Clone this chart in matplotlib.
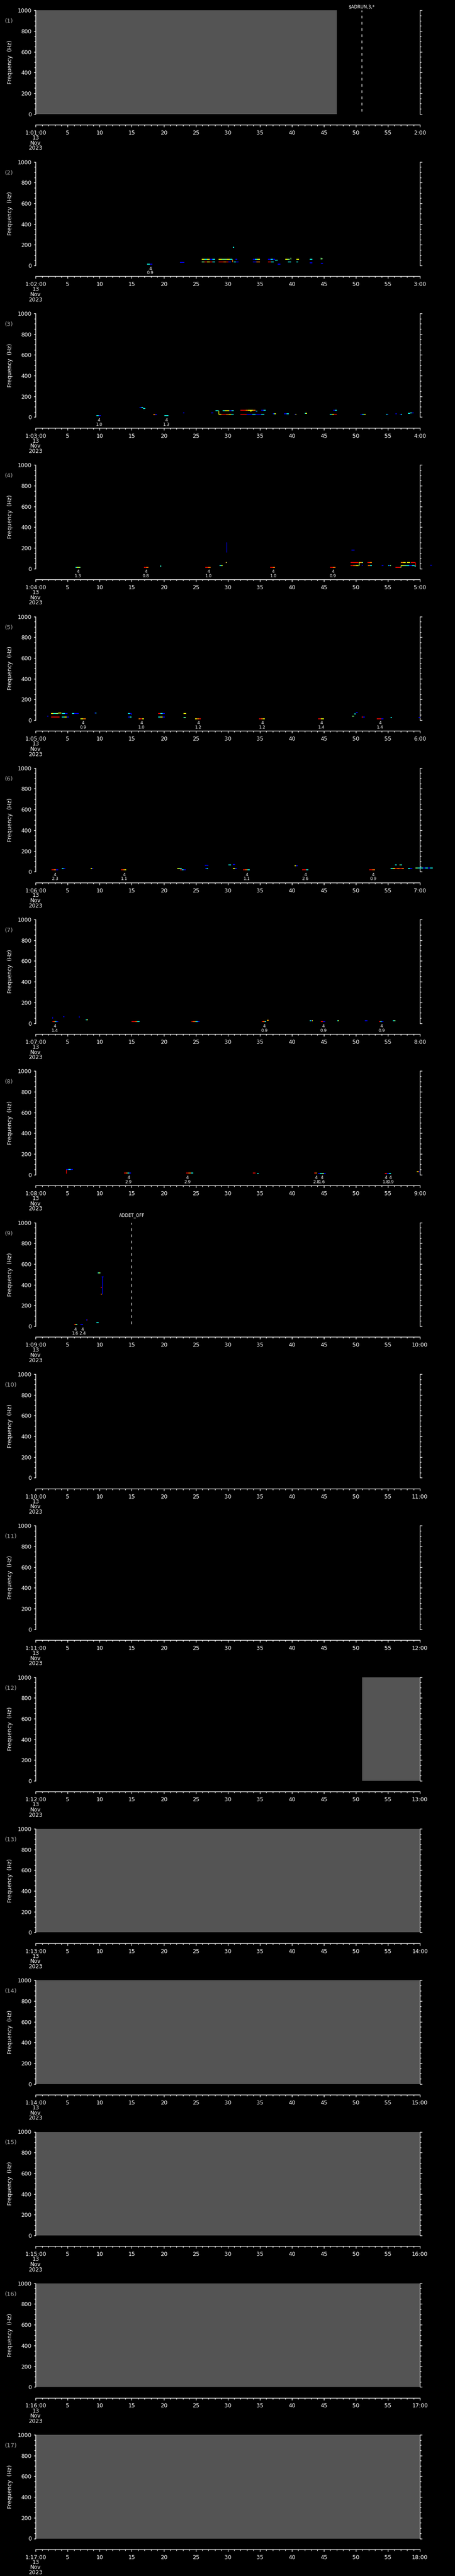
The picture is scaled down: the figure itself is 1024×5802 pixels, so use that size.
import matplotlib
matplotlib.use("Agg")
import matplotlib.pyplot as plt
import numpy as np

# ---------------- data ----------------
panel_ids = list(range(1, 18))            # panel (n) == minute n of hour 1
date_lines = ["13", "Nov", "2023"]
freq_major = [0, 200, 400, 600, 800, 1000]
freq_minor = list(range(0, 1001, 50))
sec_major = list(range(0, 61, 5))
sec_minor = list(range(0, 61, 1))

# grey "no data" spans (seconds)
nodata_spans = {1: [(0.0, 47.0)], 12: [(51.0, 60.0)], 13: [(0.0, 60.0)],
                14: [(0.0, 60.0)], 15: [(0.0, 60.0)], 16: [(0.0, 60.0)],
                17: [(0.0, 60.0)]}

# event markers (dashed line + text)
event_markers = {1: [(50.9, "$ADRUN,3,*")], 9: [(15.0, "ADDET_OFF")]}

# detection annotations: (time s, upper label, lower label)
notes_p2 = [(17.9, "4", "0.9")]
notes_p3 = [(9.9, "4", "1.0"), (20.4, "4", "1.3")]
notes_p4 = [(6.6, "4", "1.3"), (17.2, "4", "0.8"), (27.0, "4", "1.0"),
            (37.1, "4", "1.0"), (46.4, "4", "0.9")]
notes_p5 = [(7.4, "4", "0.9"), (16.5, "4", "1.0"), (25.4, "4", "1.2"),
            (35.4, "4", "1.2"), (44.6, "4", "1.4"), (53.8, "4", "1.4")]
notes_p6 = [(3.0, "4", "2.3"), (13.8, "4", "1.1"), (33.0, "4", "1.1"),
            (42.1, "4", "2.6"), (52.7, "4", "0.9")]
notes_p7 = [(3.0, "4", "1.4"), (35.7, "4", "0.9"), (44.9, "4", "0.9"),
            (54.0, "4", "0.9")]
notes_p8 = [(14.5, "4", "2.9"), (23.7, "4", "2.9"), (43.8, "4", "2.8"),
            (44.7, "4", "1.6"), (54.7, "4", "1.8"), (55.4, "4", "0.9")]
notes_p9 = [(6.2, "4", "1.6"), (7.3, "4", "2.4")]

# spectral segments: (t start, t end, freq Hz, intensity codes along segment)
seg_p2 = [(17.4, 18.2, 14, "cb"), (22.5, 23.2, 31, "b"),
          (25.9, 28.0, 61, "ycybc"), (25.9, 28.0, 33, "gryrc"),
          (28.6, 30.7, 61, "yggyc"), (28.6, 30.5, 33, "rrorb"),
          (30.9, 31.7, 33, "cb"), (30.8, 31.0, 176, "c"), (31.2, 31.5, 61, "b"),
          (33.9, 35.0, 61, "bcy"), (33.9, 35.0, 36, "bo"),
          (36.3, 37.4, 61, "bcb"), (36.3, 37.2, 36, "rc"),
          (37.4, 37.8, 50, "c"), (37.8, 38.2, 14, "b"),
          (39.0, 39.7, 61, "yg"), (39.4, 39.9, 36, "c"),
          (40.7, 41.1, 61, "y"), (40.7, 41.0, 36, "c"),
          (42.8, 43.2, 61, "c"), (42.8, 43.2, 27, "b"),
          (44.5, 44.8, 64, "g"), (44.5, 44.9, 23, "b")]
seg_p3 = [(9.5, 10.2, 16, "cb"), (16.2, 16.8, 90, "bc"), (16.8, 17.1, 82, "c"),
          (18.4, 18.9, 24, "ob"), (20.1, 20.7, 16, "c"), (23.0, 23.2, 41, "b"),
          (27.4, 27.7, 38, "b"), (28.1, 28.6, 63, "c"),
          (28.6, 30.9, 29, "yrroyc"), (29.2, 30.9, 63, "cyybc"),
          (32.0, 34.3, 66, "rroyyo"), (34.3, 34.6, 58, "bc"),
          (32.0, 35.7, 29, "rrbbcbbc"), (33.5, 33.7, 56, "y"),
          (35.2, 35.9, 66, "bc"), (37.0, 37.5, 31, "bcy"),
          (38.8, 39.5, 31, "bc"), (40.4, 40.7, 29, "by"),
          (42.0, 42.4, 34, "cy"), (45.9, 47.0, 29, "cyr"),
          (46.5, 47.0, 66, "bc"), (50.7, 51.5, 29, "bcy"),
          (54.7, 55.1, 29, "cb"), (56.2, 56.4, 31, "b"),
          (56.9, 57.2, 29, "bc"), (58.1, 58.5, 35, "c"), (58.5, 59.0, 41, "cb")]
seg_p4 = [(6.2, 7.0, 11, "cyg"), (16.9, 17.6, 11, "ro"), (19.4, 19.6, 24, "gc"),
          (26.5, 27.3, 11, "ro"), (28.7, 29.2, 29, "cy"), (29.7, 29.9, 60, "oc"),
          (36.6, 37.4, 11, "ro"), (46.0, 46.8, 11, "ro"),
          (49.3, 49.8, 180, "b"), (49.2, 50.4, 57, "rr"), (49.2, 50.4, 29, "roy"),
          (50.5, 51.1, 57, "yog"), (50.9, 51.1, 33, "b"),
          (51.8, 52.5, 57, "ro"), (51.9, 52.5, 29, "oc"),
          (54.0, 54.3, 29, "b"), (55.1, 55.5, 29, "cbg"),
          (56.2, 57.0, 11, "r"), (57.0, 59.2, 29, "ygcbc"),
          (57.0, 57.8, 57, "oy"), (58.0, 58.5, 60, "y"), (58.6, 59.3, 57, "r"),
          (59.2, 59.4, 26, "c"), (61.6, 61.9, 33, "b")]
seg_p5 = [(1.8, 2.0, 36, "b"), (2.4, 3.7, 31, "rrr"), (2.4, 3.5, 64, "ycg"),
          (3.5, 4.0, 66, "y"), (4.1, 5.2, 31, "cyb"), (4.1, 5.0, 62, "cb"),
          (5.7, 6.7, 62, "cbb"), (7.0, 7.8, 14, "yo"), (9.2, 9.5, 66, "bc"),
          (14.4, 15.0, 64, "cb"), (14.4, 15.0, 31, "bc"), (16.1, 16.9, 14, "ory"),
          (19.1, 20.2, 64, "rcb"), (19.1, 20.2, 31, "cyb"),
          (23.1, 23.5, 62, "y"), (23.1, 23.4, 27, "cg"), (24.9, 25.8, 14, "yor"),
          (34.9, 35.8, 14, "roy"), (44.1, 45.0, 14, "ry"),
          (49.4, 49.7, 40, "g"), (49.7, 50.0, 60, "c"), (50.0, 50.3, 72, "b"),
          (50.9, 51.4, 31, "rb"), (53.3, 54.3, 14, "rrb"),
          (55.4, 55.6, 27, "c"), (59.8, 60.1, 27, "b")]
seg_p6 = [(2.5, 3.5, 17, "rob"), (4.1, 4.6, 29, "cb"), (8.6, 9.0, 29, "yb"),
          (13.3, 14.1, 17, "roy"), (22.1, 22.8, 29, "ygc"), (22.5, 23.4, 17, "rcb"),
          (26.4, 27.0, 60, "b"), (26.5, 26.9, 29, "bc"), (30.1, 30.5, 63, "c"),
          (30.8, 31.1, 71, "b"), (30.8, 31.4, 29, "yb"), (32.4, 33.4, 17, "roc"),
          (40.4, 40.9, 56, "yb"), (41.6, 42.6, 17, "rrc"), (52.1, 53.0, 17, "ro"),
          (55.4, 57.5, 29, "cyroro"), (56.1, 56.4, 63, "c"), (56.8, 57.2, 66, "gc"),
          (58.1, 58.8, 29, "cb"), (59.3, 62.0, 33, "gccbcbc")]
seg_p7 = [(2.6, 3.5, 16, "rocb"), (4.3, 4.5, 63, "b"), (7.8, 8.2, 31, "cy"),
          (15.0, 16.2, 16, "rroc"), (24.3, 25.6, 16, "rocb"),
          (35.3, 36.0, 16, "roc"), (36.1, 36.4, 29, "yo"),
          (42.8, 43.3, 24, "cby"), (44.5, 45.2, 16, "rb"), (47.1, 47.4, 24, "cy"),
          (51.4, 51.8, 24, "b"), (53.6, 54.3, 16, "rcb"), (55.8, 56.2, 24, "cg")]
seg_p8 = [(4.8, 5.8, 50, "bcb"), (13.8, 14.9, 16, "rocb"), (23.5, 24.6, 16, "roc"),
          (33.9, 34.3, 16, "r"), (34.6, 34.8, 14, "c"), (43.5, 43.9, 16, "ro"),
          (44.1, 45.3, 12, "bcgb"), (54.5, 55.5, 12, "rbc"), (59.5, 60.0, 30, "yob")]
seg_p9 = [(6.0, 6.5, 16, "royc"), (7.0, 7.4, 16, "b"), (7.9, 8.1, 61, "br"),
          (9.5, 9.8, 33, "c"), (9.7, 10.1, 515, "cyg"), (10.3, 10.6, 475, "b"),
          (10.2, 10.3, 375, "r"), (10.2, 10.3, 310, "o")]

# vertical streaks: (time s, f low, f high, intensity code)
vert_p2 = [(30.7, 36, 61, "o"), (39.8, 61, 75, "g"), (44.5, 61, 75, "g")]
vert_p3 = [(28.6, 29, 63, "y")]
vert_p4 = [(29.8, 157, 257, "b"), (50.5, 29, 60, "g"), (57.0, 11, 29, "g"),
           (59.3, 29, 57, "r")]
vert_p5 = [(14.9, 53, 64, "b")]
vert_p7 = [(2.6, 43, 60, "b"), (6.8, 53, 72, "b")]
vert_p8 = [(4.76, 14, 50, "r")]
vert_p9 = [(10.4, 307, 475, "b")]

segments = {2: seg_p2, 3: seg_p3, 4: seg_p4, 5: seg_p5, 6: seg_p6,
            7: seg_p7, 8: seg_p8, 9: seg_p9}
verticals = {2: vert_p2, 3: vert_p3, 4: vert_p4, 5: vert_p5, 7: vert_p7,
             8: vert_p8, 9: vert_p9}
notes = {2: notes_p2, 3: notes_p3, 4: notes_p4, 5: notes_p5, 6: notes_p6,
         7: notes_p7, 8: notes_p8, 9: notes_p9}

# ---------------- style ----------------
LEVEL = {"b": 0.12, "c": 0.37, "g": 0.5, "y": 0.64, "o": 0.78, "r": 0.9}
cmap = plt.get_cmap("jet")
GREY = "#545454"
W, H, DPI = 1024, 5802, 100
STEP = 341.3
AX_L, AX_R = 80.3, 945.0
AX_T, AX_B = 23.3, 256.7
T_AX = 281.0
marker_offset = {1: 7.5, 9: 16.6}
FONT = "DejaVu Sans"
plt.rcParams["font.family"] = [FONT]

fig = plt.figure(figsize=(W / DPI, H / DPI), dpi=DPI, facecolor="black")


def fy(p):
    return 1 - p / H


px = 72.0 / DPI  # points per pixel

for n in panel_ids:
    off = (n - 1) * STEP
    ax = fig.add_axes([AX_L / W, fy(AX_B + off), (AX_R - AX_L) / W,
                       (AX_B - AX_T) / H])
    ax.set_facecolor("black")
    ax.set_xlim(0, 60)
    ax.set_ylim(0, 1000)
    for s in ("top", "bottom"):
        ax.spines[s].set_visible(False)
    for s in ("left", "right"):
        ax.spines[s].set_color("white")
        ax.spines[s].set_linewidth(1.4 * px)
    ax.set_xticks([])
    ax.set_yticks(freq_major)
    ax.set_yticks(freq_minor, minor=True)
    ax.set_yticklabels([str(v) for v in freq_major])
    ax.tick_params(axis="y", which="both", left=True, right=True,
                   direction="out", colors="white", width=1.4 * px,
                   labelsize=8.9, pad=5 * px)
    ax.tick_params(axis="y", which="major", length=4.5 * px)
    ax.tick_params(axis="y", which="minor", length=2.8 * px)

    for (t0, t1) in nodata_spans.get(n, []):
        ax.axvspan(t0, t1, color=GREY, lw=0, zorder=0)

    for (t0, t1, f, codes) in segments.get(n, []):
        edges = np.linspace(t0, t1, len(codes) + 1)
        for j, ch in enumerate(codes):
            ax.plot([edges[j], edges[j + 1]], [f, f], color=cmap(LEVEL[ch]),
                    lw=1.9 * px, solid_capstyle="butt", clip_on=False, zorder=3)
    for (t, f0, f1, ch) in verticals.get(n, []):
        ax.plot([t, t], [f0, f1], color=cmap(LEVEL[ch]), lw=1.4 * px,
                solid_capstyle="butt", clip_on=False, zorder=3)

    for (t, label) in event_markers.get(n, []):
        ax.plot([t, t], [1000, 0], color="white", lw=1.4 * px,
                linestyle=(1.5, (6 / 1.4, 8 / 1.4)), zorder=4)
        xpx = AX_L + t / 60.0 * (AX_R - AX_L)
        fig.text(xpx / W, fy(AX_T + off - marker_offset[n]), label,
                 color="white", fontsize=7, ha="center", va="center")

    for (t, top, bot) in notes.get(n, []):
        xpx = AX_L + t / 60.0 * (AX_R - AX_L)
        fig.text(xpx / W, fy(AX_B + off + 9.5), top, color="white",
                 fontsize=6.8, ha="center", va="baseline")
        fig.text(xpx / W, fy(AX_B + off + 19.3), bot, color="white",
                 fontsize=6.8, ha="center", va="baseline")

    # panel number and y label
    fig.text(11 / W, fy(AX_T + off + 24.5), "(%d)" % n, color="#a8a8a8",
             fontsize=9.5, ha="left", va="center")
    fig.text(23 / W, fy((AX_T + AX_B) / 2 + off), "Frequency  (Hz)",
             color="white", fontsize=9, rotation=90, ha="center", va="center")

    # time axis
    ax2 = fig.add_axes([AX_L / W, fy(T_AX + off), (AX_R - AX_L) / W, 1e-6])
    ax2.patch.set_visible(False)
    for s in ("top", "left", "right"):
        ax2.spines[s].set_visible(False)
    ax2.spines["bottom"].set_color("white")
    ax2.spines["bottom"].set_linewidth(1.4 * px)
    ax2.set_xlim(0, 60)
    ax2.set_yticks([])
    ax2.set_xticks(sec_major)
    ax2.set_xticks(sec_minor, minor=True)
    labels = ["1:%02d:00" % n] + [str(v) for v in sec_major[1:-1]] + ["%d:00" % (n + 1)]
    ax2.set_xticklabels(labels)
    ax2.tick_params(axis="x", which="both", direction="out", colors="white",
                    width=1.4 * px, labelsize=8.9, pad=7 * px)
    ax2.tick_params(axis="x", which="major", length=5 * px)
    ax2.tick_params(axis="x", which="minor", length=3.2 * px)
    for k, line in enumerate(date_lines):
        fig.text(AX_L / W, fy(T_AX + off + 29.5 + 11.7 * k), line,
                 color="white", fontsize=8.9, ha="center", va="center")

fig.savefig("out.png", dpi=DPI, facecolor="black")
